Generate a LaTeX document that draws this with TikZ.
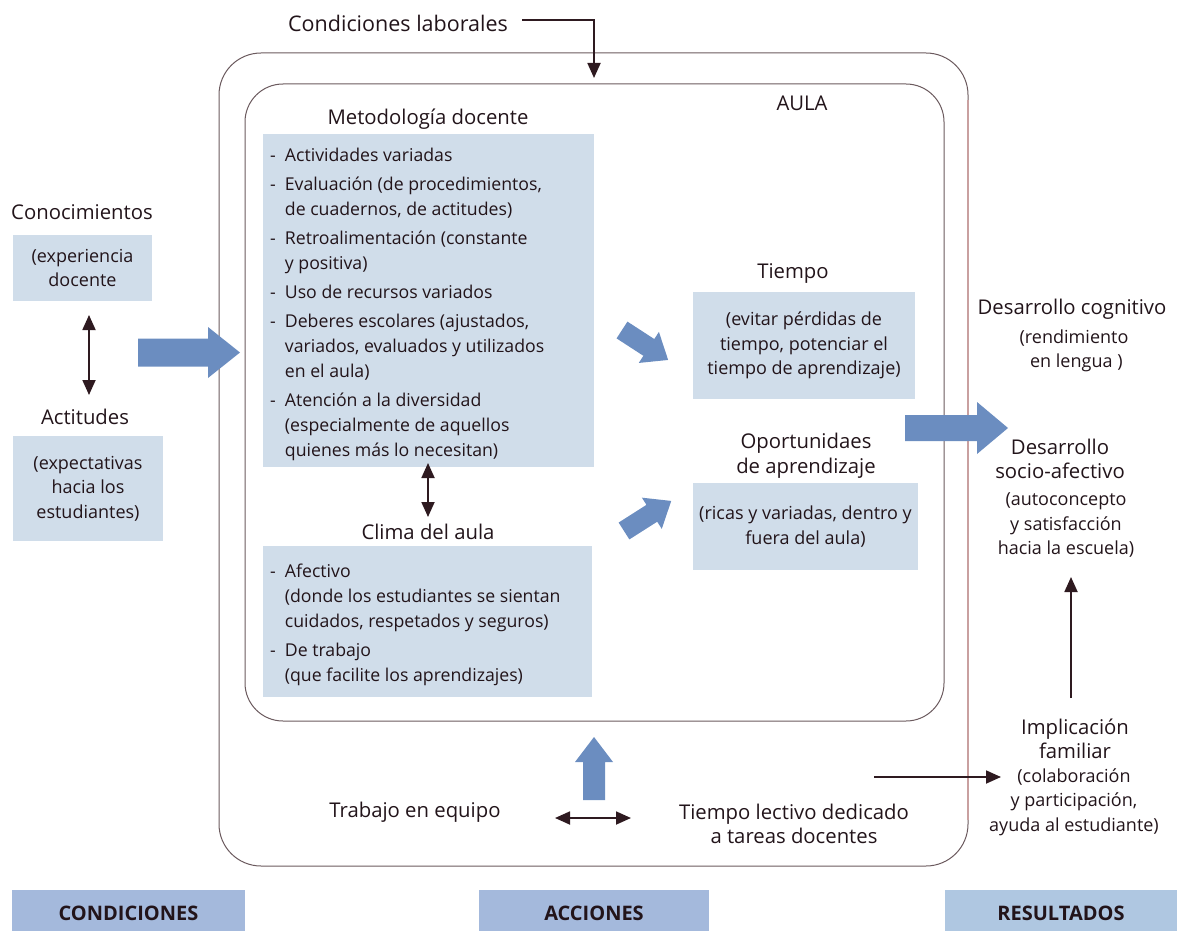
\documentclass[tikz,border=0pt]{standalone}
\usepackage{fontspec}
\setmainfont{Open Sans}
\usetikzlibrary{arrows.meta}
\definecolor{txt}{HTML}{22141A}
\definecolor{boxbg}{HTML}{D0DDEA}
\definecolor{barrow}{HTML}{6B8DC0}
\definecolor{lbl}{HTML}{A4B9DC}
\definecolor{lbltwo}{HTML}{AFC7E1}
\definecolor{dark}{HTML}{2E1A20}
\definecolor{frame}{HTML}{6B5A5E}
\definecolor{pinkline}{HTML}{C9A0A0}
\tikzset{
  hdr/.style={font=\fontsize{20.3}{24.5}\selectfont, text=txt, align=center, inner sep=0pt},
  body/.style={font=\fontsize{18}{24.5}\selectfont, text=txt, align=center, inner sep=0pt},
  bx/.style={fill=boxbg, draw=none, body},
  dar/.style={draw=dark, line width=1.8pt, -{Triangle[width=13pt,length=15pt]}},
  ddar/.style={draw=dark, line width=1.8pt, {Triangle[width=13pt,length=15pt]}-{Triangle[width=13pt,length=15pt]}},
  bigarrow/.style={fill=barrow, draw=none},
  tag/.style={font=\fontsize{20}{24}\selectfont\bfseries, text=txt, inner sep=0pt},
}
\newcommand{\blockarrow}[5]{% length, head length, shaft half, head half, (unused)
  \fill[bigarrow] (0,-#3) -- ({#1-#2},-#3) -- ({#1-#2},-#4) -- (#1,0) -- ({#1-#2},#4) -- ({#1-#2},#3) -- (0,#3) -- cycle;}
\begin{document}
\begin{tikzpicture}[x=1pt,y=-1pt]
\useasboundingbox (0,0) rectangle (1177,931);

% frames
\draw[frame, line width=1pt, rounded corners=42pt] (219,53) rectangle (968,866);
\draw[pinkline, line width=1.2pt] (968,100) -- (968,820);
\draw[frame, line width=1pt, rounded corners=38pt] (245,84) rectangle (944,721);

% top
\node[font=\fontsize{21.5}{25}\selectfont, text=txt, inner sep=0pt] (cl) at (398,23) {Condiciones laborales};
\coordinate (clturn) at (594,20);
\coordinate (cltip) at (594,78);
\draw[dar] (522,20) -- (clturn) -- (cltip);
\node[hdr] (aula) at (802,103) {AULA};

% left column
\node[hdr] (conoc) at (82,212) {Conocimientos};
\node[bx, minimum width=139pt, minimum height=66pt] (conbox) at (82.5,268) {(experiencia\\docente};
\node[hdr] (actit) at (85,417) {Actitudes};
\node[bx, minimum width=150pt, minimum height=105pt] (actbox) at (88,488.5) {(expectativas\\hacia los\\estudiantes)};
\coordinate (lda) at (89,315);
\coordinate (ldb) at (89,395);
\draw[ddar] (lda) -- (ldb);

\begin{scope}[shift={(138,352.5)}]
  \blockarrow{102}{32}{14}{25.5}{}
\end{scope}

% metodologia
\node[hdr] (metod) at (428,119) {Metodología docente};
\node[fill=boxbg, minimum width=331pt, minimum height=333pt, inner sep=0pt] (metbox) at (428.5,300.5) {};
\node[anchor=north west, inner sep=0pt, text=txt, font=\fontsize{17.7}{25}\selectfont] (metlist) at (270,143.5) {%
\begin{tabular}{@{}l@{\hspace{9pt}}l@{}}
- & Actividades variadas\\[4pt]
- & Evaluación (de procedimientos,\\
  & de cuadernos, de actitudes)\\[4pt]
- & Retroalimentación (constante\\
  & y positiva)\\[4pt]
- & Uso de recursos variados\\[4pt]
- & Deberes escolares (ajustados,\\
  & variados, evaluados y utilizados\\
  & en el aula)\\[4pt]
- & Atención a la diversidad\\
  & (especialmente de aquellos\\
  & quienes más lo necesitan)
\end{tabular}};

\coordinate (mda) at (428,463);
\coordinate (mdb) at (428,517);
\draw[ddar] (mda) -- (mdb);

% clima
\node[hdr] (clima) at (428,532) {Clima del aula};
\node[fill=boxbg, minimum width=329pt, minimum height=151pt, inner sep=0pt] (climbox) at (427.5,621.5) {};
\node[anchor=north west, inner sep=0pt, text=txt, font=\fontsize{17.7}{25}\selectfont] (climlist) at (270,559.5) {%
\begin{tabular}{@{}l@{\hspace{9pt}}l@{}}
- & Afectivo\\
  & (donde los estudiantes se sientan\\
  & cuidados, respetados y seguros)\\[4pt]
- & De trabajo\\
  & (que facilite los aprendizajes)
\end{tabular}};

% diagonal arrows
\begin{scope}[shift={(622,330)}, rotate=-33]
  \blockarrow{55}{23}{10}{18.5}{}
\end{scope}
\begin{scope}[shift={(624,531)}, rotate=32.5]
  \blockarrow{56}{23}{10}{18.5}{}
\end{scope}

% tiempo
\node[hdr] (tiempo) at (793,273) {Tiempo};
\node[bx, minimum width=222pt, minimum height=107pt] (tbox) at (804,345.5) {(evitar pérdidas de\\tiempo, potenciar el\\tiempo de aprendizaje)};
\node[hdr] (oport) at (806,455.5) {Oportunidaes\\de aprendizaje};
\node[bx, minimum width=225pt, minimum height=87pt] (obox) at (805.5,526.5) {(ricas y variadas, dentro y\\fuera del aula)};

% right big arrow
\begin{scope}[shift={(905,428)}]
  \blockarrow{103}{31}{13}{26}{}
\end{scope}

% results
\node[hdr] (dcog) at (1072,309) {Desarrollo cognitivo};
\node[body] (dcogb) at (1074,351) {(rendimiento\\\ en lengua )};
\node[hdr] (dsoc) at (1060,459) {Desarrollo\\socio-afectivo};
\node[body] (dsocb) at (1066,525) {(autoconcepto\\y satisfacción\\hacia la escuela)};
\node[hdr] (impl) at (1075,739) {Implicación\\familiar};
\node[body] (implb) at (1074,802) {(colaboración\\y participación,\\ayuda al estudiante)};
\coordinate (upa) at (1071,698);
\coordinate (upb) at (1071,577);
\draw[dar] (upa) -- (upb);
\coordinate (ifa) at (874,777);
\coordinate (ifb) at (1001,777);
\draw[dar] (ifa) -- (ifb);

% bottom actions
\begin{scope}[shift={(594,800)}, rotate=90]
  \blockarrow{63}{25}{11}{19}{}
\end{scope}
\node[hdr] (trab) at (415,812) {Trabajo en equipo};
\node[hdr] (tlect) at (794,824) {Tiempo lectivo dedicado\\a tareas docentes};
\coordinate (hda) at (555,818);
\coordinate (hdb) at (631,818);
\draw[ddar] (hda) -- (hdb);

% bottom tags
\fill[lbl] (12,890) rectangle (245,931);
\node[tag] (tcond) at (128.5,913) {CONDICIONES};
\fill[lbl] (479,890) rectangle (709,931);
\node[tag] (tacc) at (594,913) {ACCIONES};
\fill[lbltwo] (945,890) rectangle (1177,931);
\node[tag] (tres) at (1061,913) {RESULTADOS};
\end{tikzpicture}
\end{document}
